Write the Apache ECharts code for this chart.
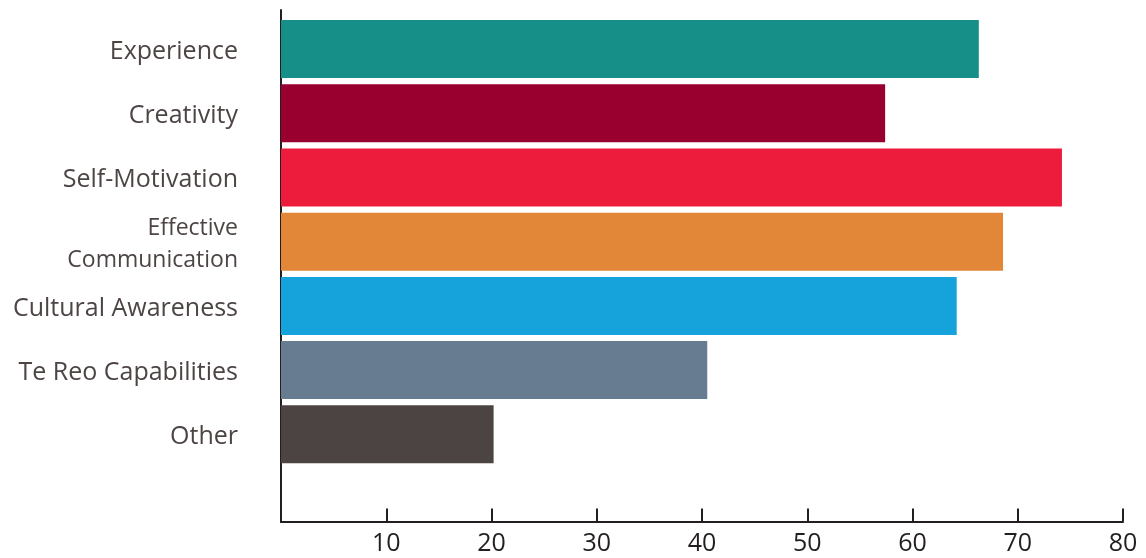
<!DOCTYPE html>
<html>
<head>
<meta charset="utf-8">
<script src="https://cdn.jsdelivr.net/npm/echarts@6/dist/echarts.min.js"></script>
<style>
html,body{margin:0;padding:0;background:#fff;}
#chart{width:1146px;height:558px;}
</style>
</head>
<body>
<div id="chart"></div>
<script>
const categories = ["Experience", "Creativity", "Self-Motivation", "Effective\nCommunication", "Cultural Awareness", "Te Reo Capabilities", "Other", ""];
const values = [66.3, 57.4, 74.2, 68.6, 64.2, 40.5, 20.2, null];
const xTicks = [0, 10, 20, 30, 40, 50, 60, 70, 80];
const palette = ["#178f89", "#99002f", "#ee1c3c", "#e18737", "#16a3dc", "#677c90", "#4c4442"];

const chart = echarts.init(document.getElementById('chart'), null, {renderer: 'canvas'});
chart.setOption({
  animation: false,
  backgroundColor: '#ffffff',
  grid: [
    {left: 281, right: 23, top: 17, bottom: 27.4, containLabel: false},
    {left: 281, right: 23, top: 10, bottom: 36, containLabel: false}
  ],
  xAxis: [
    {
      type: 'value', gridIndex: 0,
      min: xTicks[0], max: xTicks[xTicks.length - 1], interval: 10,
      offset: -9,
      axisLine: {show: true, lineStyle: {color: '#231f20', width: 2}},
      axisTick: {show: true, inside: true, length: 13, lineStyle: {color: '#231f20', width: 2}},
      splitLine: {show: false},
      axisLabel: {
        color: '#231f20', fontSize: 25, fontFamily: 'Open Sans', margin: 10,
        formatter: v => (v === 0 ? '' : String(v))
      }
    },
    {type: 'value', gridIndex: 1, show: false, min: 0, max: 80}
  ],
  yAxis: [
    {
      type: 'category', gridIndex: 0, data: categories, inverse: true,
      axisLine: {show: false}, axisTick: {show: false}, splitLine: {show: false},
      axisLabel: {
        color: '#4d4544', fontSize: 25, fontFamily: 'Open Sans', margin: 43,
        align: 'right', padding: [5, 0, 0, 0],
        formatter: v => v.indexOf('\n') >= 0
          ? v.split('\n').map(s => '{s|' + s + '}').join('\n')
          : v,
        rich: {
          s: {color: '#4d4544', fontSize: 23, fontFamily: 'Open Sans', lineHeight: 32, align: 'right'}
        }
      }
    },
    {
      type: 'value', gridIndex: 1, min: 0, max: 1,
      axisLine: {show: true, lineStyle: {color: '#231f20', width: 2}},
      axisTick: {show: false}, axisLabel: {show: false}, splitLine: {show: false}
    }
  ],
  series: [{
    type: 'bar', xAxisIndex: 0, yAxisIndex: 0,
    data: values,
    barWidth: 58,
    itemStyle: {color: p => palette[p.dataIndex % palette.length]}
  }]
});
</script>
</body>
</html>
